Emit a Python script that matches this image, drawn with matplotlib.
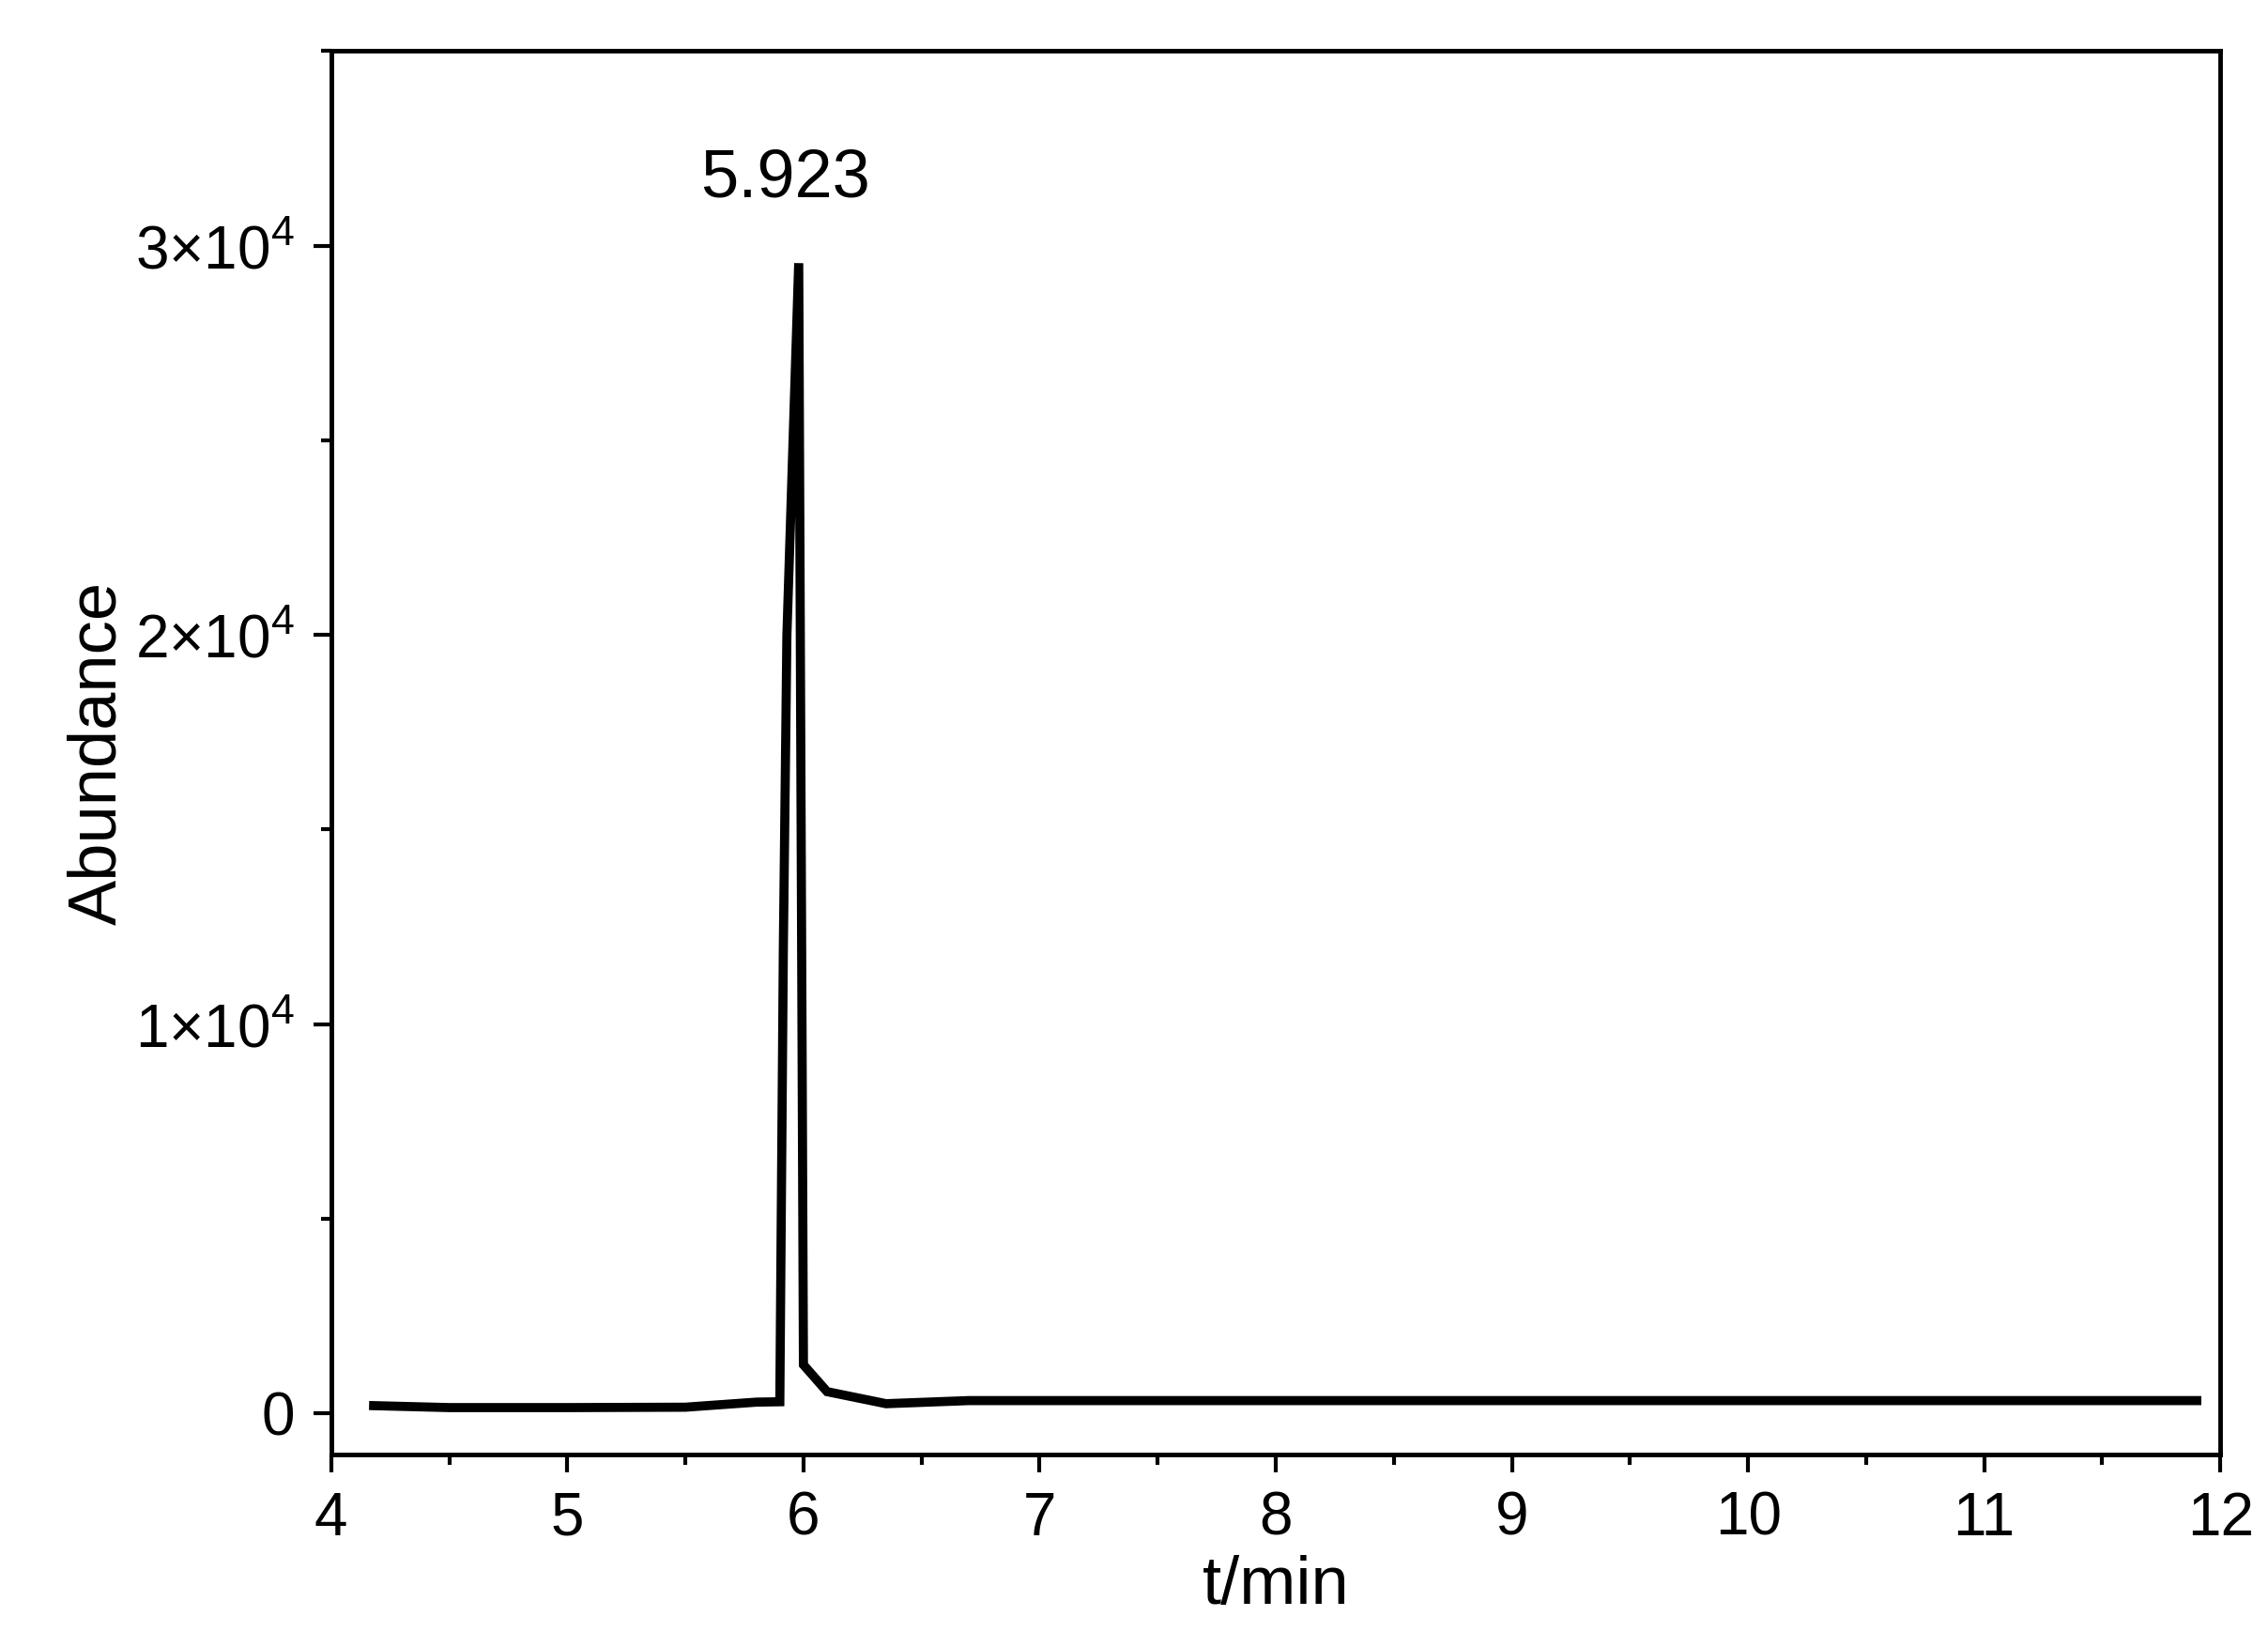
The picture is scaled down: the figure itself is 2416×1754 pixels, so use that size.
import matplotlib.pyplot as plt
from matplotlib.ticker import MultipleLocator, FixedLocator

plt.rcParams['font.family'] = ['Liberation Sans', 'DejaVu Sans']
plt.rcParams['mathtext.fontset'] = 'custom'
plt.rcParams['mathtext.rm'] = 'Liberation Sans'

time_min = [4.18, 4.5, 5.0, 5.5, 5.8, 5.9, 5.915, 5.93, 5.98, 6.0, 6.1, 6.35, 6.7, 8.0, 10.0, 11.9]
abundance = [200, 150, 150, 160, 290, 300, 12000, 20000, 29550, 1250, 560, 250, 330, 330, 330, 330]
peak_time = 5.923
peak_label = "5.923"

fig = plt.figure(figsize=(24.16, 17.54), dpi=100)
ax = fig.add_axes([0.146, 0.117, 0.833, 0.852])
ax.plot(time_min, abundance, color="black", linewidth=7, solid_joinstyle="miter")
ax.set_xlim(4, 12)
ax.set_ylim(-1050, 35000)
ax.xaxis.set_major_locator(MultipleLocator(1))
ax.xaxis.set_minor_locator(MultipleLocator(0.5))
ax.yaxis.set_major_locator(FixedLocator([0, 10000, 20000, 30000]))
ax.yaxis.set_minor_locator(MultipleLocator(5000))
ax.set_yticklabels(["0", r"$1{\times}10^4$", r"$2{\times}10^4$", r"$3{\times}10^4$"])
ax.tick_params(which="major", length=14, width=3, labelsize=46, pad=14)
ax.tick_params(which="minor", length=8, width=3)
for s in ax.spines.values():
    s.set_linewidth(3.5)
ax.set_xlabel("t/min", fontsize=52, labelpad=6)
ax.set_ylabel("Abundance", fontsize=52, labelpad=4)
ax.text(peak_time, 30900, peak_label, fontsize=52, ha="center", va="bottom")
fig.savefig("out.png", dpi=100, facecolor="white")
